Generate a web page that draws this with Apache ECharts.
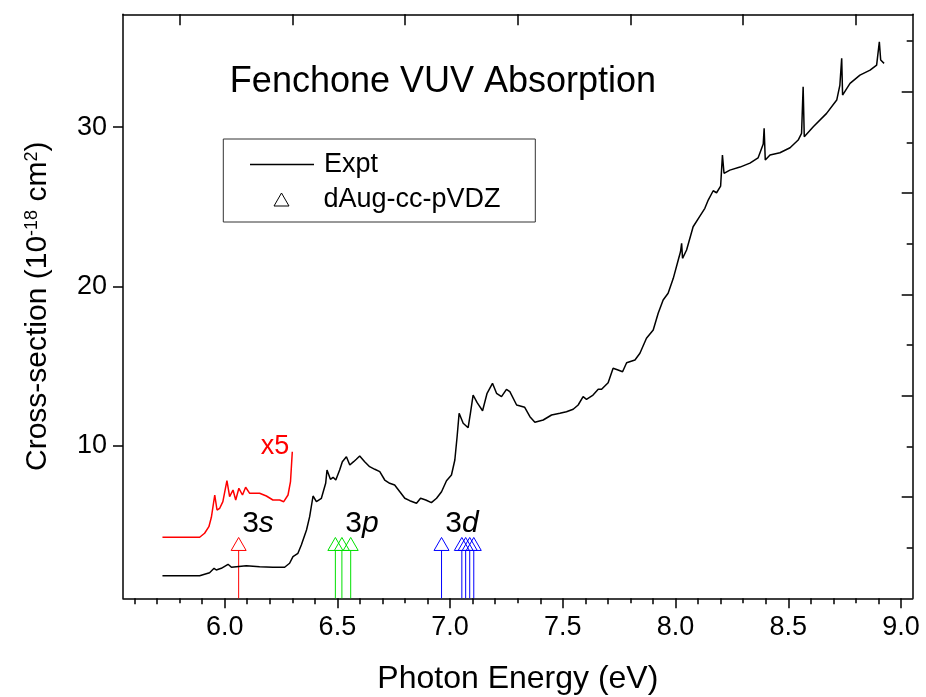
<!DOCTYPE html>
<html><head><meta charset="utf-8">
<script src="https://cdn.jsdelivr.net/npm/echarts@6/dist/echarts.min.js"></script>
<style>html,body{margin:0;padding:0;background:#fff}#c{width:926px;height:697px}</style>
</head><body><div id="c"></div>
<script>
// ---- data (photon energy eV, cross-section 1e-18 cm^2) ----
const exptEnergy = [5.724,5.889,5.933,5.953,5.963,5.985,6.015,6.030,6.052,6.096,6.155,6.214,6.266,6.288,6.303,6.325,6.340,6.363,6.377,6.392,6.407,6.429,6.448,6.454,6.469,6.481,6.493,6.510,6.522,6.540,6.555,6.572,6.584,6.599,6.621,6.643,6.666,6.688,6.710,6.732,6.754,6.777,6.799,6.821,6.851,6.869,6.892,6.917,6.940,6.962,6.984,7.006,7.021,7.031,7.040,7.058,7.080,7.090,7.102,7.120,7.144,7.164,7.176,7.188,7.206,7.228,7.250,7.265,7.295,7.331,7.354,7.376,7.413,7.450,7.487,7.516,7.546,7.568,7.590,7.605,7.634,7.657,7.672,7.701,7.723,7.745,7.765,7.783,7.820,7.842,7.871,7.901,7.923,7.945,7.967,7.990,8.012,8.022,8.027,8.031,8.049,8.078,8.108,8.130,8.145,8.167,8.182,8.200,8.208,8.215,8.241,8.286,8.330,8.366,8.389,8.393,8.398,8.419,8.463,8.508,8.544,8.559,8.566,8.571,8.611,8.670,8.715,8.729,8.737,8.741,8.774,8.818,8.863,8.892,8.904,8.910,8.925];
const exptSigma  = [1.868,1.868,2.056,2.332,2.226,2.332,2.583,2.395,2.433,2.495,2.433,2.395,2.395,2.646,3.060,3.273,3.793,4.734,5.567,6.865,6.508,6.721,7.661,8.495,7.912,8.038,7.868,8.495,9.016,9.329,8.809,9.016,9.166,9.373,9.016,8.702,8.539,8.389,7.868,7.661,7.555,7.135,6.721,6.571,6.408,6.721,6.614,6.445,6.721,7.135,7.824,8.182,9.122,10.583,12.050,11.423,11.147,12.050,13.197,12.715,12.213,13.304,13.618,13.931,13.304,13.091,13.555,13.404,12.571,12.426,11.837,11.486,11.630,11.944,12.050,12.150,12.301,12.571,13.091,12.928,13.197,13.555,13.555,13.969,14.871,14.765,14.658,15.223,15.392,15.812,16.752,17.273,18.320,19.154,19.574,20.514,21.661,22.182,22.708,21.768,22.288,23.749,24.420,24.903,25.423,26.006,25.881,26.300,28.245,27.100,27.300,27.490,27.740,28.060,28.934,29.918,27.931,28.245,28.389,28.702,29.185,29.605,32.527,29.392,30.019,30.859,31.693,32.633,34.307,32.006,32.740,33.260,33.574,33.887,35.348,34.201,33.994];
const x5Energy = [5.724,5.889,5.911,5.930,5.941,5.956,5.966,5.978,5.992,6.010,6.022,6.037,6.049,6.063,6.079,6.093,6.111,6.155,6.185,6.214,6.244,6.262,6.281,6.292,6.300];
const x5Sigma  = [4.276,4.276,4.527,4.940,5.530,6.928,5.987,6.094,6.508,7.824,6.821,7.241,6.614,7.348,6.928,7.411,7.034,7.034,6.865,6.614,6.614,6.508,6.928,7.762,9.643];
const sticks3s = [6.062];
const sticks3p = [6.491, 6.520, 6.559];
const sticks3d = [6.962, 7.052, 7.069, 7.087, 7.105];
const stickHeight = 3.45;
// ---- ticks ----
const xMajorTicks = [6.0, 6.5, 7.0, 7.5, 8.0, 8.5, 9.0];
const xMinorTicks = [5.6,5.7,5.8,5.9,6.1,6.2,6.3,6.4,6.6,6.7,6.8,6.9,7.1,7.2,7.3,7.4,7.6,7.7,7.8,7.9,8.1,8.2,8.3,8.4,8.6,8.7,8.8,8.9];
const topMajorTicks = [5.8, 6.3, 6.8, 7.3, 7.8, 8.3, 8.8];
const topMinorTicks = [5.6,5.7,5.9,6.0,6.1,6.2,6.4,6.5,6.6,6.7,6.9,7.0,7.1,7.2,7.4,7.5,7.6,7.7,7.9,8.0,8.1,8.2,8.4,8.5,8.6,8.7,8.9,9.0];
const yTicks = [10, 20, 30];
const rightMajorTicks = [1, 2, 3, 4, 5];
const rightMinorTicks = [0.5, 1.5, 2.5, 3.5, 4.5, 5.5];

const X_MIN = 5.549, X_MAX = 9.052, Y_MIN = 0.45, Y_MAX = 37.07;
const FONT = '"Liberation Sans", Arial, sans-serif';

const chart = echarts.init(document.getElementById('c'), null, {renderer: 'canvas'});

function zip(a, b) { return a.map((v, i) => [v, b[i]]); }
function stickData(arr) { return arr.map(v => [v, stickHeight]); }
function renderStick(params, api) {
  const x = api.value(0);
  const base = api.coord([x, Y_MIN]);
  const top = api.coord([x, api.value(1)]);
  const color = api.visual('color');
  const w = 15, h = 13;
  return {type: 'group', children: [
    {type: 'line', shape: {x1: top[0], y1: base[1], x2: top[0], y2: top[1]}, style: {stroke: color, lineWidth: 1}},
    {type: 'polygon', shape: {points: [[top[0], top[1] - h], [top[0] - w / 2, top[1]], [top[0] + w / 2, top[1]]]}, style: {fill: 'none', stroke: color, lineWidth: 1}}
  ]};
}

const axisLineStyle = {show: true, onZero: false, lineStyle: {color: '#000', width: 1.5}};
const tickStyle = {color: '#000', width: 1.5};
function legendAt(left, top, item) {
  return {
    orient: 'vertical', left: left, top: top, padding: 0, itemWidth: 64, itemHeight: 14, selectedMode: false,
    textStyle: {fontSize: 27, fontFamily: FONT, color: '#000', lineHeight: 14, padding: [0, 0, 0, 5]},
    data: [item]
  };
}
const italicRich = {i: {fontStyle: 'italic', fontSize: 30, fontFamily: FONT, fill: '#000'}};

const option = {
  animation: false,
  backgroundColor: '#fff',
  grid: {left: 123, right: 13.3, top: 14.3, bottom: 98.7, containLabel: false, outerBoundsMode: 'none'},
  xAxis: [
    {type: 'value', min: X_MIN, max: X_MAX, position: 'bottom',
     axisLine: axisLineStyle,
     axisTick: {show: true, inside: false, length: 10, customValues: xMajorTicks, lineStyle: tickStyle},
     axisLabel: {show: true, customValues: xMajorTicks, formatter: v => v.toFixed(1), fontSize: 27, fontFamily: FONT, color: '#000', margin: 16},
     splitLine: {show: false},
     name: 'Photon Energy (eV)', nameLocation: 'middle', nameGap: 65,
     nameTextStyle: {fontSize: 32, fontFamily: FONT, color: '#000'}},
    {type: 'value', min: X_MIN, max: X_MAX, position: 'bottom',
     axisLine: {show: false},
     axisTick: {show: true, inside: false, length: 5, customValues: xMinorTicks, lineStyle: tickStyle},
     axisLabel: {show: false}, splitLine: {show: false}},
    {type: 'value', min: X_MIN, max: X_MAX, position: 'top',
     axisLine: axisLineStyle,
     axisTick: {show: true, inside: true, length: 11, customValues: topMajorTicks, lineStyle: tickStyle},
     axisLabel: {show: false}, splitLine: {show: false}},
    {type: 'value', min: X_MIN, max: X_MAX, position: 'top',
     axisLine: {show: false},
     axisTick: {show: true, inside: true, length: 6, customValues: topMinorTicks, lineStyle: tickStyle},
     axisLabel: {show: false}, splitLine: {show: false}}
  ],
  yAxis: [
    {type: 'value', min: Y_MIN, max: Y_MAX, position: 'left',
     axisLine: axisLineStyle,
     axisTick: {show: true, inside: false, length: 10, customValues: yTicks, lineStyle: tickStyle},
     axisLabel: {show: true, customValues: yTicks, fontSize: 27, fontFamily: FONT, color: '#000', margin: 16},
     splitLine: {show: false},
     name: 'Cross-section (10{sup|-18} cm{sup|2})', nameLocation: 'middle', nameGap: 70, nameRotate: 90,
     nameTextStyle: {fontSize: 30, fontFamily: FONT, color: '#000',
       rich: {sup: {fontSize: 18, fontFamily: FONT, color: '#000', verticalAlign: 'top', lineHeight: 30}}}},
    {type: 'value', min: 0, max: 5.765, position: 'right',
     axisLine: axisLineStyle,
     axisTick: {show: true, inside: true, length: 11, customValues: rightMajorTicks, lineStyle: tickStyle},
     axisLabel: {show: false}, splitLine: {show: false}},
    {type: 'value', min: 0, max: 5.765, position: 'right',
     axisLine: {show: false},
     axisTick: {show: true, inside: true, length: 6, customValues: rightMinorTicks, lineStyle: tickStyle},
     axisLabel: {show: false}, splitLine: {show: false}}
  ],
  legend: [
    legendAt(250, 151, {name: 'Expt', icon: 'path://M0,0H64V1.5H0Z', itemStyle: {color: '#000'}}),
    legendAt(247, 186, {name: 'dAug-cc-pVDZ', icon: 'path://M0,13M64,13M32,0L39.5,13L24.5,13Z',
      itemStyle: {color: 'none', borderColor: '#000', borderWidth: 1}})
  ],
  graphic: [
    {type: 'rect', shape: {x: 223.3, y: 139, width: 312, height: 83}, style: {fill: 'none', stroke: '#333', lineWidth: 1}, z: 10},
    {type: 'text', x: 443, y: 82, style: {text: 'Fenchone VUV Absorption', fontSize: 36, fontFamily: FONT, fill: '#000', textAlign: 'center', textVerticalAlign: 'middle'}},
    {type: 'text', x: 275, y: 447, style: {text: 'x5', fontSize: 27, fontFamily: FONT, fill: '#ff0000', textAlign: 'center', textVerticalAlign: 'middle'}},
    {type: 'text', x: 258, y: 524, style: {text: '3{i|s}', fontSize: 30, fontFamily: FONT, fill: '#000', textAlign: 'center', textVerticalAlign: 'middle', rich: italicRich}},
    {type: 'text', x: 362, y: 524, style: {text: '3{i|p}', fontSize: 30, fontFamily: FONT, fill: '#000', textAlign: 'center', textVerticalAlign: 'middle', rich: italicRich}},
    {type: 'text', x: 462, y: 524, style: {text: '3{i|d}', fontSize: 30, fontFamily: FONT, fill: '#000', textAlign: 'center', textVerticalAlign: 'middle', rich: italicRich}}
  ],
  series: [
    {name: 'Expt', type: 'line', xAxisIndex: 0, yAxisIndex: 0, data: zip(exptEnergy, exptSigma),
     showSymbol: false, symbol: 'none', lineStyle: {color: '#000', width: 1.5}, itemStyle: {color: '#000'}, z: 5},
    {name: 'Expt x5', type: 'line', xAxisIndex: 0, yAxisIndex: 0, data: zip(x5Energy, x5Sigma),
     showSymbol: false, symbol: 'none', lineStyle: {color: '#ff0000', width: 1.5}, itemStyle: {color: '#ff0000'}, z: 5},
    {name: 'dAug-cc-pVDZ', type: 'custom', xAxisIndex: 0, yAxisIndex: 0, data: stickData(sticks3s),
     renderItem: renderStick, itemStyle: {color: '#ff0000'}, encode: {x: 0, y: 1}},
    {name: 'dAug-cc-pVDZ', type: 'custom', xAxisIndex: 0, yAxisIndex: 0, data: stickData(sticks3p),
     renderItem: renderStick, itemStyle: {color: '#00e000'}, encode: {x: 0, y: 1}},
    {name: 'dAug-cc-pVDZ', type: 'custom', xAxisIndex: 0, yAxisIndex: 0, data: stickData(sticks3d),
     renderItem: renderStick, itemStyle: {color: '#0000ff'}, encode: {x: 0, y: 1}}
  ]
};
chart.setOption(option);
</script></body></html>
